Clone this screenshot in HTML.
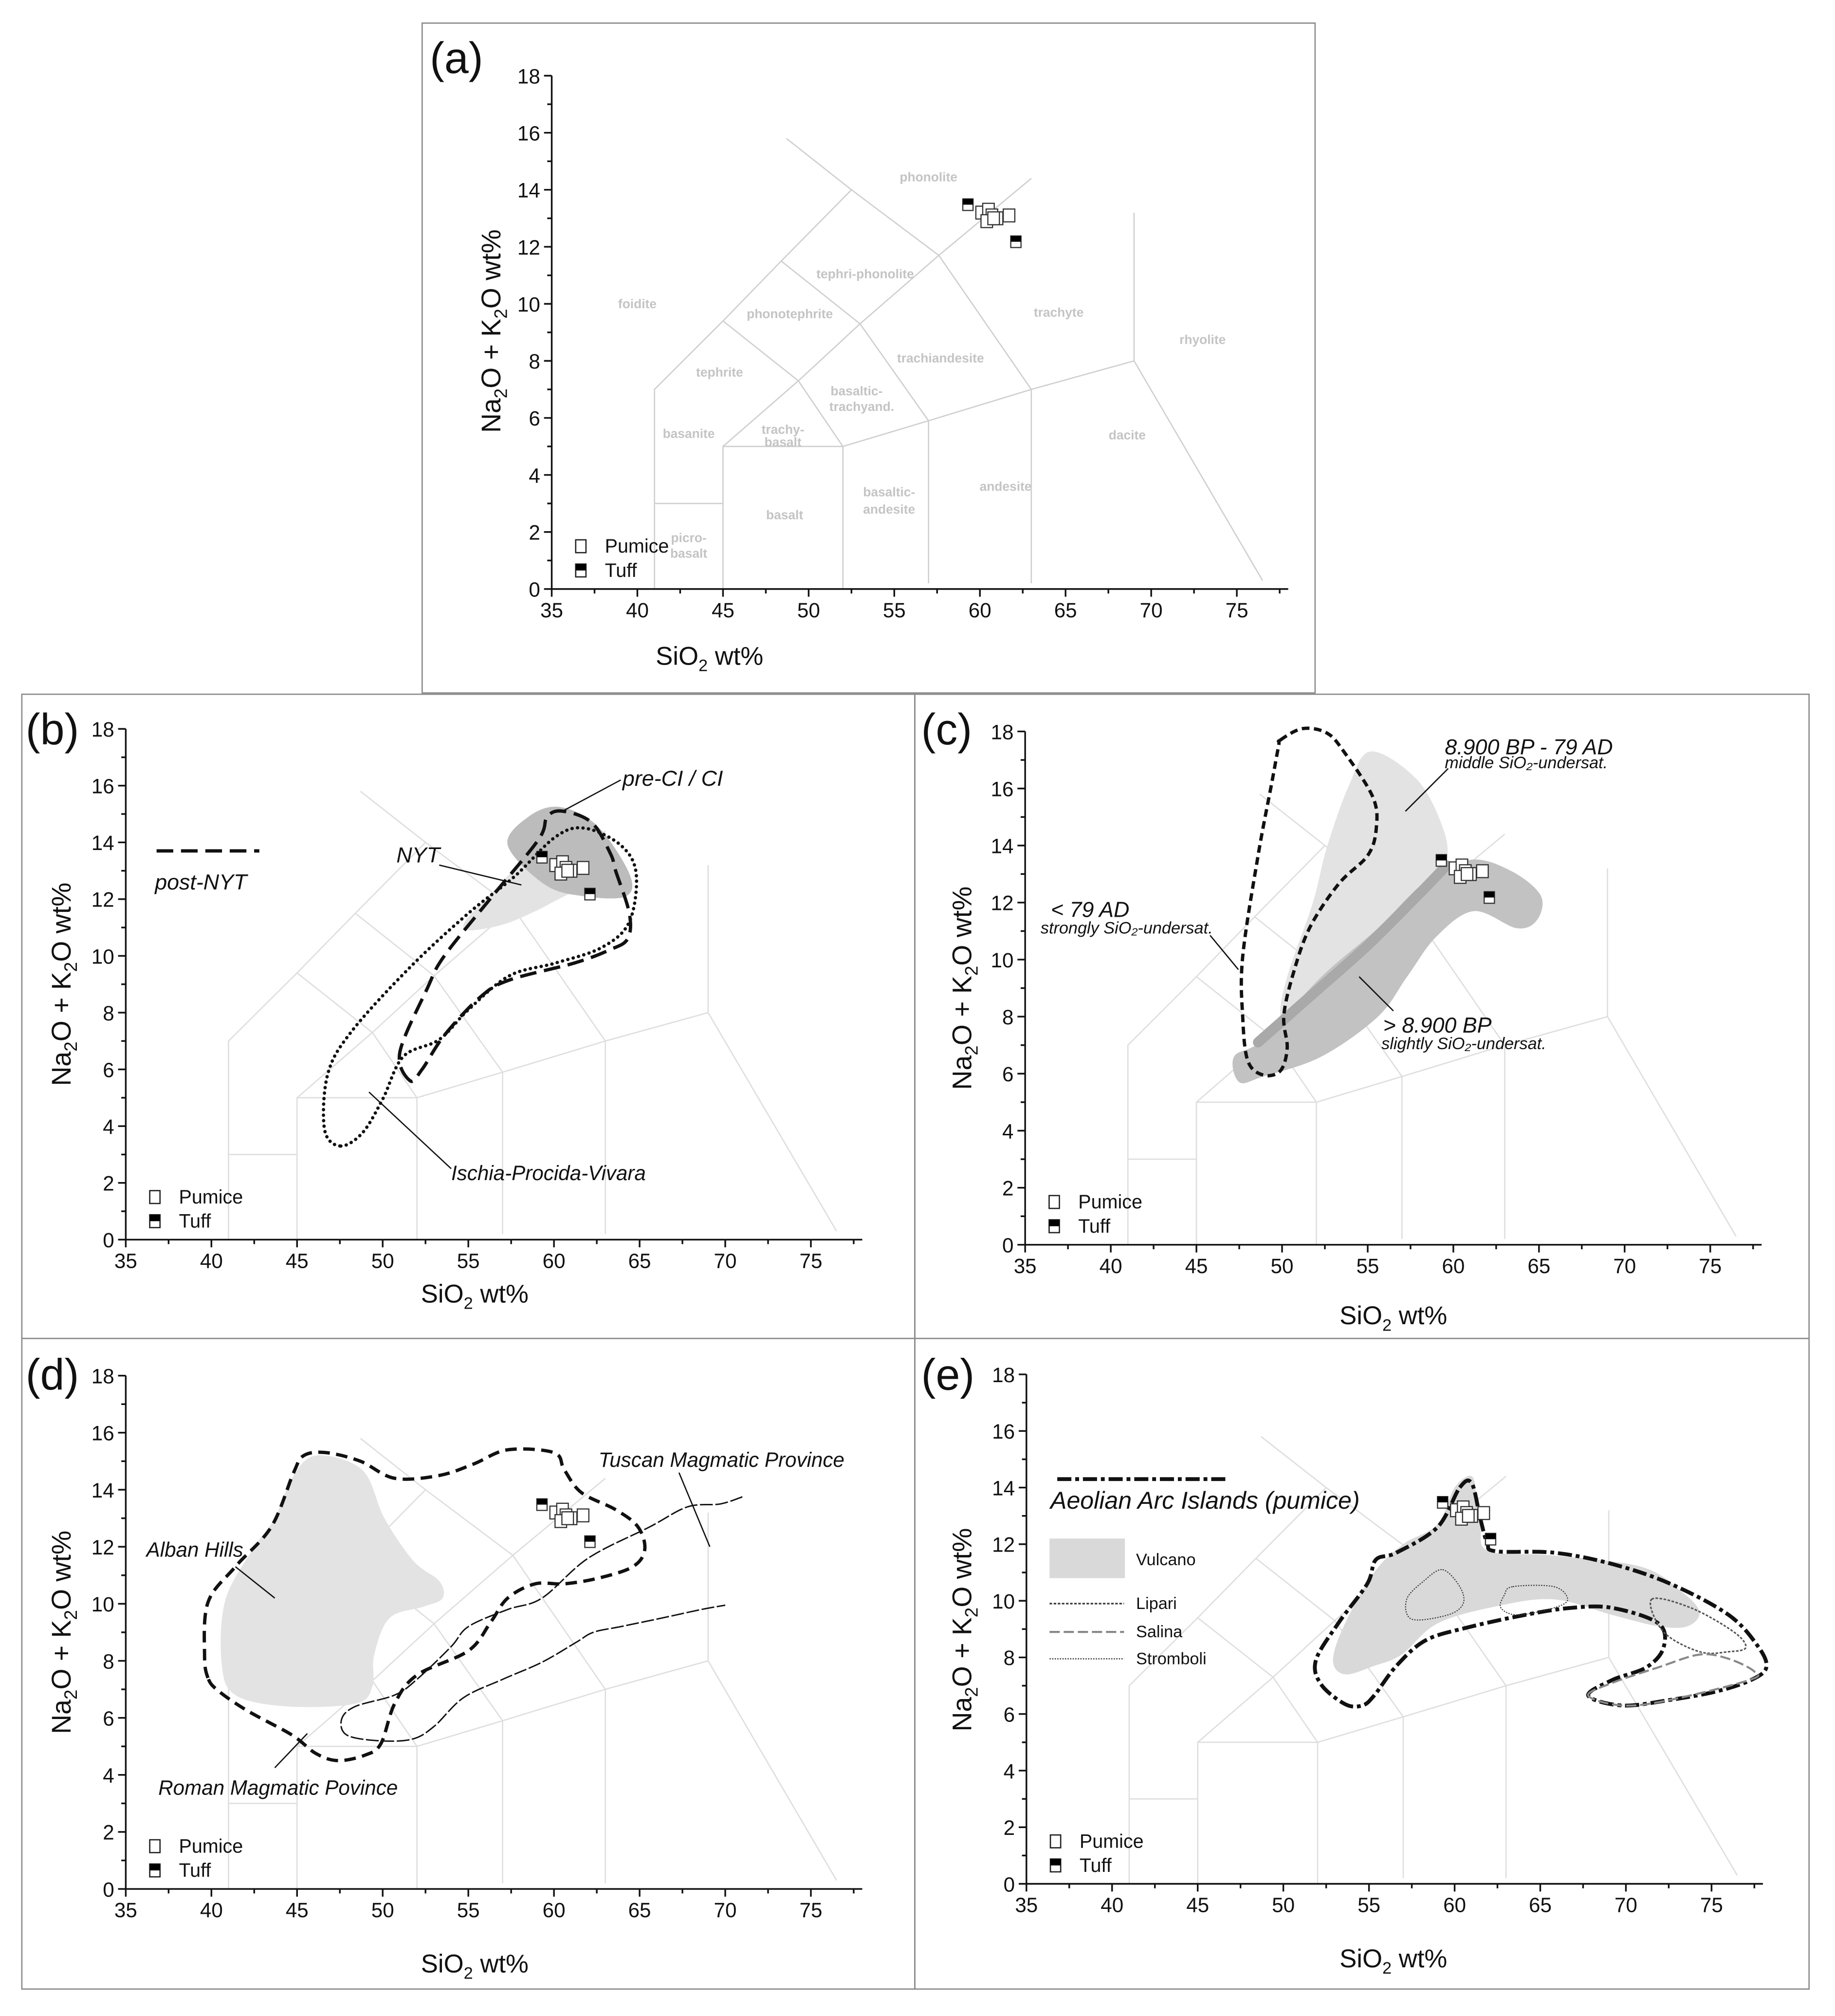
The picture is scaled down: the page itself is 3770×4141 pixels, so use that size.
<!DOCTYPE html>
<html><head><meta charset="utf-8">
<style>
html,body{margin:0;padding:0;background:#fff;}
svg{display:block;}
text{font-family:"Liberation Sans Narrow","Liberation Sans",sans-serif;}
</style></head>
<body>
<svg id="fig" xmlns="http://www.w3.org/2000/svg" width="3770" height="4141" viewBox="0 0 1430.2 1571">
<rect x="0" y="0" width="1430.2" height="1571" fill="#fff"/>
</svg>
<script>
// ---------- data ----------
const pumiceSiO2 = [60.1, 60.5, 60.7, 61.0, 60.4, 61.7, 60.8];
const pumiceAlk  = [13.2, 13.3, 13.1, 13.0, 12.9, 13.1, 13.0];
const tuffSiO2 = [59.3, 62.1];
const tuffAlk  = [13.5, 12.2];
const xTicks = [35, 40, 45, 50, 55, 60, 65, 70, 75];
const yTicks = [0, 2, 4, 6, 8, 10, 12, 14, 16, 18];

// TAS field boundaries (SiO2, alkali)
const tasLines = [
 [[41,0],[41,7],[45,9.4],[48.4,11.5],[52.5,14],[48.7,15.8]],
 [[45,0],[45,5],[52,5]],[[41,3],[45,3]],
 [[45,5],[49.4,7.3],[53,9.3],[57.6,11.7],[63,14.4]],
 [[52,0],[52,5],[57,5.9],[63,7],[69,8],[76.5,0.3]],
 [[57,0.2],[57,5.9]],[[63,0.2],[63,7]],[[69,8],[69,13.2]],
 [[49.4,7.3],[52,5]],[[53,9.3],[57,5.9]],[[57.6,11.7],[63,7]],
 [[48.4,11.5],[53,9.3]],[[52.5,14],[57.6,11.7]],[[45,9.4],[49.4,7.3]]
];
const tasNames = ["phonolite","tephri-phonolite","foidite","phonotephrite","trachyte","rhyolite","tephrite","trachiandesite","basaltic-","trachyand.","basanite","trachy-","basalt","dacite","andesite","basaltic-","andesite","basalt","picro-","basalt"];
const tasNameX = [57,53.3,40,48.9,64.6,73,44.8,57.7,52.8,53.1,43,48.5,48.5,68.6,61.5,54.7,54.7,48.6,43,43];
const tasNameY = [14.45,11.05,10,9.65,9.7,8.75,7.6,8.1,6.95,6.4,5.45,5.6,5.15,5.4,3.6,3.4,2.8,2.6,1.8,1.25];

// panel b
const nytField = [[55,10.9],[57,11.1],[59,11.6],[61,12.2],[62.5,12.3],[63.5,13],[62,13.6],[60,13.9],[58,13.2],[56,12],[54.8,11.2]];
const preCIField = [[60.3,15.25],[62.5,14.6],[64.4,12.9],[64.2,12.1],[61.8,12.1],[59.5,12.5],[57.3,13.9],[58.5,14.9]];
const postNYT = [[51.6,5.6],[51,6.6],[52.6,8.85],[53.6,10],[56.4,12.1],[59.1,14.1],[59.6,14.9],[60.5,15.1],[62.2,14.7],[63.3,13.6],[63.6,13],[64.4,11.5],[64.3,10.6],[63.2,10.2],[61.2,9.75],[57.4,9.15],[55.7,8.55],[53.6,7.2],[52.3,6]];
const ischia = [[47.5,3.3],[46.6,3.9],[46.8,5.85],[48.2,7.35],[51.6,9.6],[55,11.5],[57.7,12.8],[60.1,14.2],[61.8,14.5],[63.9,13.9],[64.8,12.9],[64.4,11.2],[62.8,10.3],[60.1,9.75],[57.4,9.3],[55,8.1],[53.3,7.05],[51.2,6.45],[50,4.95],[48.8,3.75]];

// panel c
const middleField = [[55.2,17.3],[57.9,16.3],[59.4,14.6],[59.6,13.4],[58.6,12.2],[56.6,10.55],[53.9,9.1],[51.6,7.7],[50.6,7.45],[49.9,8],[50.3,9.4],[51.8,12],[52.6,13.9],[53.9,16.1]];
const slightField = [[47.5,5.7],[47.2,6.6],[48.9,7.2],[52.3,9.4],[55.6,11.1],[58.3,12.7],[61,13.5],[63.4,13.1],[65.1,12.25],[64.9,11.4],[63.7,11.1],[61.2,11.7],[59,10.8],[57.3,9.4],[55.6,8],[52.3,6.6],[48.9,5.9]];
const overlapBand = [[48.6,7.1],[52,8.9],[55,10.5],[58,12.3],[59.6,13.3]];
const strongly = [[49.9,17.7],[51.2,18.1],[52.6,17.95],[53.6,17.3],[55.3,15.7],[55.5,14.6],[55,13.65],[53.3,12.65],[51.6,11.1],[50.6,9.4],[50.1,8],[50.3,6.9],[49.9,6.1],[48.9,5.95],[48,6.45],[47.7,8],[47.7,10.1],[48.6,13.65],[49.4,16.2],[49.8,17.5]];

// panel d
const albanField = [[46.1,15.2],[48.8,14.7],[50.1,13],[51.8,11.5],[53.3,10.8],[53.5,10.2],[52.4,9.9],[50.4,9.5],[49.5,8.2],[49.4,7.1],[48.4,6.5],[44.4,6.4],[41.4,6.8],[40.6,7.9],[40.8,10.1],[42.4,11.9],[43.7,13],[44.7,14.4]];
const romanProv = [[39.8,7.4],[39.6,8.2],[39.8,10.05],[41.4,11.3],[43.5,12.7],[44.8,14.6],[45.4,15.2],[46.7,15.3],[48.7,15],[50.7,14.4],[53.3,14.5],[55.3,14.9],[57.3,15.4],[60,15.3],[60.6,14.7],[61.6,13.9],[63.6,13.3],[64.9,12.7],[65.3,11.9],[64.6,11.3],[62.6,10.9],[60.6,10.7],[58.9,10.7],[57.3,10.2],[56.3,9.35],[55,8.35],[52,7.5],[50.7,6.5],[49.9,5.1],[49,4.7],[47.4,4.5],[46.1,4.75],[44.7,5.4],[42.1,6.25],[40.4,6.95]];
const tuscanProv = [[71,13.75],[69.7,13.5],[67.8,13.4],[65.6,12.7],[62,11.6],[59.3,10.2],[57.3,9.8],[55,9.2],[54,8.5],[52,7.35],[50.7,6.8],[48.4,6.4],[47.6,5.95],[47.9,5.4],[49.7,5.2],[51.7,5.25],[53,5.7],[54.7,6.7],[57,7.35],[59.3,7.95],[61.3,8.65],[62.3,9],[63.9,9.2],[66.3,9.5],[68.6,9.8],[70,9.95]];

// panel e
const vulcanoField = [[60,14],[61,14.4],[61.3,13.6],[61.5,12.6],[62,11.75],[65.8,11.6],[70.9,11.2],[73.3,10.3],[74.3,9.6],[73.6,9.1],[71.9,9.1],[69.2,9.5],[65.8,10.05],[62.4,9.8],[59,9.2],[56.9,8.1],[55.3,7.7],[53.6,7.4],[52.9,7.9],[53.6,9.2],[55.3,11],[57,12],[59,12.7]];
const aeolian = [[60.3,14],[61,14.15],[61.5,12.9],[61.9,12.05],[62.4,11.75],[65.8,11.7],[69.2,11.3],[72.6,10.6],[76,9.5],[77.7,8.4],[78.2,7.65],[77.3,7.2],[75.3,6.8],[72.6,6.5],[69.8,6.3],[67.8,6.65],[69.2,7.2],[71.2,7.65],[72.2,8.35],[71.9,9.2],[69.2,9.75],[66.8,9.75],[64.1,9.5],[60.7,9.05],[58.3,8.6],[56.6,7.7],[55.3,6.65],[54.6,6.3],[53.6,6.35],[52.2,7.05],[51.9,7.9],[53.2,9.2],[54.9,10.6],[55.4,11.45],[56.6,11.7],[59,12.6]];
const lipari = [[71.5,10.05],[73.8,9.75],[76.3,8.9],[77,8.35],[76,8.2],[74.3,8.2],[72.2,8.9]];
const salina = [[67.8,6.65],[69.2,7.1],[71.9,7.65],[74.3,8.1],[76,7.95],[77.5,7.5],[77.2,7.2],[72.6,6.5],[69.8,6.3]];
const stromboli1 = [[59.3,11.1],[60.3,10.5],[60.5,9.9],[59.6,9.5],[57.5,9.35],[57.2,10.05],[58.2,10.7]];
const stromboli2 = [[63.4,10.5],[65.8,10.5],[66.6,10.05],[65.8,9.75],[63.7,9.5],[62.7,9.75],[62.9,10.2]];

// ---------- helpers ----------
const NS = "http://www.w3.org/2000/svg";
const svg = document.getElementById('fig');
function mk(tag, attrs, parent){
  const e = document.createElementNS(NS, tag);
  for (const k in attrs) e.setAttribute(k, attrs[k]);
  (parent||svg).appendChild(e);
  return e;
}
function smoothPath(pts, closed, P){
  const q = pts.map(p => [P.x(p[0]), P.y(p[1])]);
  const n = q.length;
  let d = "M" + q[0][0].toFixed(2) + "," + q[0][1].toFixed(2);
  const last = closed ? n : n - 1;
  for (let i = 0; i < last; i++){
    const p0 = q[closed ? (i - 1 + n) % n : Math.max(i - 1, 0)];
    const p1 = q[i];
    const p2 = q[(i + 1) % n];
    const p3 = q[closed ? (i + 2) % n : Math.min(i + 2, n - 1)];
    const c1 = [p1[0] + (p2[0] - p0[0]) / 6, p1[1] + (p2[1] - p0[1]) / 6];
    const c2 = [p2[0] - (p3[0] - p1[0]) / 6, p2[1] - (p3[1] - p1[1]) / 6];
    d += " C" + c1[0].toFixed(2) + "," + c1[1].toFixed(2) + " " + c2[0].toFixed(2) + "," + c2[1].toFixed(2) + " " + p2[0].toFixed(2) + "," + p2[1].toFixed(2);
  }
  if (closed) d += " Z";
  return d;
}

// ---------- panels ----------
const panels = [
 {id:'a', frame:[329,18,696,522], x35:430, x75:964, y0:459, y18:59, label:[335,57], xt:[553,518], yt:[390,258], full:true},
 {id:'b', frame:[17,541,696,502], x35:98, x75:632, y0:966, y18:568, label:[20,580], xt:[370,1015], yt:[55,767]},
 {id:'c', frame:[713,541,697,502], x35:799, x75:1333, y0:970, y18:570, label:[718,580], xt:[1086,1032], yt:[757,770]},
 {id:'d', frame:[17,1043,696,507], x35:98, x75:632, y0:1472, y18:1072, label:[20,1083], xt:[370,1537], yt:[55,1272]},
 {id:'e', frame:[713,1043,697,507], x35:800, x75:1334, y0:1468, y18:1071, label:[718,1083], xt:[1086,1533], yt:[757,1270]}
];

panels.forEach(pn => {
  const g = mk('g', {});
  
  
  const sx = (pn.x75 - pn.x35) / 40, sy = (pn.y0 - pn.y18) / 18;
  const P = {x: v => pn.x35 + (v - 35) * sx, y: v => pn.y0 - v * sy};

  const fr = mk('rect', {x:pn.frame[0], y:pn.frame[1], width:pn.frame[2], height:pn.frame[3], fill:'none', stroke:'#8a8a8a', 'stroke-width':1}, g);
  
  

  // TAS grid
  const tg = mk('g', {stroke: pn.full ? '#cfcfcf' : '#dedede', 'stroke-width': 1, fill:'none'}, g);
  
  
  tasLines.forEach(l => {
    const pl = mk('polyline', {points: l.map(p => P.x(p[0]).toFixed(2) + ',' + P.y(p[1]).toFixed(2)).join(' ')}, tg);
    
    
  });
  if (pn.full){
    tasNames.forEach((nm, i) => {
      const t = mk('text', {x:P.x(tasNameX[i]), y:P.y(tasNameY[i]), 'font-size':10, 'font-weight':'bold', fill:'#c4c4c4', 'text-anchor':'middle', 'dominant-baseline':'central'}, g);
      t.textContent = nm;
      
      
    });
  }

  // overlays
  const F = (pts, fill, nm) => {
    const p = mk('path', {d: smoothPath(pts, true, P), fill: fill, stroke: 'none'}, g);
    
    
    return p;
  };
  const L = (pts, closed, stroke, w, dash, nm, cap) => {
    const p = mk('path', {d: smoothPath(pts, closed, P), fill: 'none', stroke: stroke, 'stroke-width': w, 'stroke-dasharray': dash, 'stroke-linecap': cap || 'butt', 'stroke-linejoin':'round'}, g);
    
    
    return p;
  };
  const T = (txt, x, y, size, nm, italic, anchor) => {
    const t = mk('text', {x: P.x(x), y: P.y(y), 'font-size': size, fill: '#111', 'font-style': italic ? 'italic' : 'normal', 'text-anchor': anchor || 'start', 'dominant-baseline':'central'}, g);
    t.textContent = txt;
    
    
    return t;
  };
  const LL = (a, b, nm) => {
    const l = mk('line', {x1:P.x(a[0]), y1:P.y(a[1]), x2:P.x(b[0]), y2:P.y(b[1]), stroke:'#111', 'stroke-width':1}, g);
    
    
  };

  if (pn.id === 'b'){
    F(nytField, '#e3e3e3', 'nyt-field');
    F(preCIField, '#bcbcbc', 'pre-ci-field');
    L(postNYT, true, '#111', 2.6, '13 6', 'post-nyt-contour');
    L(ischia, true, '#111', 2.6, '0.1 4.2', 'ischia-contour', 'round');
    LL([60.5,15.1],[63.9,16.2], 'pre-ci-leader');
    LL([53.3,13.2],[58.1,12.5], 'nyt-leader');
    LL([49.2,5.2],[54,2.5], 'ischia-leader');
    T('pre-CI / CI', 64, 16.25, 17, 'pre-ci-label', true);
    T('NYT', 50.8, 13.55, 17, 'nyt-label', true);
    T('Ischia-Procida-Vivara', 54, 2.35, 16, 'ischia-label', true);
    const lg = mk('line', {x1:P.x(36.8), y1:P.y(13.7), x2:P.x(42.8), y2:P.y(13.7), stroke:'#111', 'stroke-width':2.6, 'stroke-dasharray':'13 6'}, g);
    
    
    T('post-NYT', 36.7, 12.6, 17, 'post-nyt-legend-label', true);
  }
  if (pn.id === 'c'){
    F(middleField, '#e3e3e3', 'middle-undersat-field');
    F(slightField, '#c2c2c2', 'slightly-undersat-field');
    L(overlapBand, false, '#a9a9a9', 8, 'none', 'overlap-band', 'round');
    L(strongly, true, '#111', 2.6, '6 3.5', 'strongly-undersat-contour');
    LL([57.2,15.2],[59.7,16.7], 'middle-leader');
    LL([45.8,10.85],[47.45,9.65], 'strongly-leader');
    LL([54.5,9.4],[56.5,8.2], 'slightly-leader');
    T('8.900 BP - 79 AD', 59.5, 17.45, 17, 'middle-label', true);
    T('middle SiO\u2082-undersat.', 59.5, 16.9, 13, 'middle-sublabel', true);
    T('< 79 AD', 36.5, 11.75, 17, 'strongly-label', true);
    T('strongly SiO\u2082-undersat.', 35.9, 11.1, 13, 'strongly-sublabel', true);
    T('> 8.900 BP', 55.9, 7.7, 17, 'slightly-label', true);
    T('slightly SiO\u2082-undersat.', 55.8, 7.05, 13, 'slightly-sublabel', true);
  }
  if (pn.id === 'd'){
    F(albanField, '#e3e3e3', 'alban-hills-field');
    L(romanProv, true, '#111', 2.6, '9 5', 'roman-province-contour');
    L(tuscanProv, false, '#111', 1.1, '10 2', 'tuscan-province-contour');
    LL([41.4,11.3],[43.7,10.2], 'alban-leader');
    LL([67.3,14.6],[69.1,12], 'tuscan-leader');
    LL([43.7,4.25],[45.6,5.45], 'roman-leader');
    T('Alban Hills', 36.2, 11.9, 16, 'alban-label', true);
    T('Tuscan Magmatic Province', 62.6, 15.05, 16, 'tuscan-label', true);
    T('Roman Magmatic Povince', 36.9, 3.55, 16, 'roman-label', true);
  }
  if (pn.id === 'e'){
    F(vulcanoField, '#d9d9d9', 'vulcano-field');
    L(aeolian, true, '#111', 3, '11 3 3 3', 'aeolian-contour');
    L(lipari, true, '#555', 1.2, '2 1.2', 'lipari-contour');
    L(salina, true, '#888', 1.6, '8 3', 'salina-contour');
    L(stromboli1, true, '#333', 0.8, '1 1', 'stromboli-contour-1');
    L(stromboli2, true, '#333', 0.8, '1 1', 'stromboli-contour-2');
    const a = mk('line', {x1:P.x(36.8), y1:P.y(14.3), x2:P.x(46.8), y2:P.y(14.3), stroke:'#111', 'stroke-width':3, 'stroke-dasharray':'11 3 3 3'}, g);
    
    
    T('Aeolian Arc Islands (pumice)', 36.4, 13.55, 19, 'aeolian-legend-label', true);
    const vb = mk('rect', {x:P.x(36.35), y:P.y(12.2), width:(40.75-36.35)*sx, height:1.4*sy, fill:'#d9d9d9'}, g);
    
    
    T('Vulcano', 41.4, 11.45, 13, 'vulcano-legend-label');
    const sw = [['Lipari', 9.9, '#333', 1.2, '2 1.2'], ['Salina', 8.9, '#888', 1.6, '8 3'], ['Stromboli', 7.95, '#333', 0.9, '1 1']];
    sw.forEach(s => {
      const l = mk('line', {x1:P.x(36.35), y1:P.y(s[1]), x2:P.x(40.7), y2:P.y(s[1]), stroke:s[2], 'stroke-width':s[3], 'stroke-dasharray':s[4]}, g);
      
      
      T(s[0], 41.4, s[1], 13, 'legend-label-' + s[0].toLowerCase());
    });
  }

  // axes
  const ax = mk('g', {stroke:'#111', 'stroke-width':1.3}, g);
  
  
  const xa = mk('line', {x1:P.x(35), y1:P.y(0), x2:P.x(78), y2:P.y(0)}, ax);
  
  
  const ya = mk('line', {x1:P.x(35), y1:P.y(0), x2:P.x(35), y2:P.y(18)}, ax);
  
  
  for (let v = 35; v <= 77.6; v += 2.5){
    const major = (v % 5 === 0);
    const tk = mk('line', {x1:P.x(v), y1:P.y(0), x2:P.x(v), y2:P.y(0) + (major ? 6 : 3.5)}, ax);
    
    
  }
  for (let v = 0; v <= 18; v += 1){
    const major = (v % 2 === 0);
    const tk = mk('line', {x1:P.x(35), y1:P.y(v), x2:P.x(35) - (major ? 6 : 3.5), y2:P.y(v)}, ax);
    
    
  }
  xTicks.forEach(v => {
    const t = mk('text', {x:P.x(v), y:P.y(0) + 22, 'font-size':16, fill:'#111', 'text-anchor':'middle'}, g);
    t.textContent = v;
    
    
  });
  yTicks.forEach(v => {
    const t = mk('text', {x:P.x(35) - 9, y:P.y(v) + 6, 'font-size':16, fill:'#111', 'text-anchor':'end'}, g);
    t.textContent = v;
    
    
  });
  const xt = mk('text', {x:pn.xt[0], y:pn.xt[1], 'font-size':20, fill:'#111', 'text-anchor':'middle'}, g);
  xt.innerHTML = 'SiO<tspan font-size="13" dy="5">2</tspan><tspan dy="-5"> wt%</tspan>';
  
  
  const yt = mk('text', {x:0, y:0, 'font-size':21, fill:'#111', 'text-anchor':'middle', 'font-family':'Liberation Sans, sans-serif', transform:'translate(' + pn.yt[0] + ',' + pn.yt[1] + ') rotate(-90)'}, g);
  yt.innerHTML = 'Na<tspan font-size="14" dy="5">2</tspan><tspan dy="-5">O + K</tspan><tspan font-size="14" dy="5">2</tspan><tspan dy="-5">O wt%</tspan>';
  
  
  const pl = mk('text', {x:pn.label[0], y:pn.label[1], 'font-size':34, fill:'#111', 'font-family':'Liberation Sans, sans-serif'}, g);
  pl.textContent = '(' + pn.id + ')';
  
  

  // sample legend
  const s1 = mk('rect', {x:P.x(36.7) - 4, y:P.y(1.5) - 5, width:8, height:10, fill:'#fff', stroke:'#222', 'stroke-width':1}, g);
  
  
  const t1 = mk('text', {x:P.x(38.1), y:P.y(1.5) + 5, 'font-size':15, fill:'#111'}, g);
  t1.textContent = 'Pumice';
  
  
  const s2 = mk('rect', {x:P.x(36.7) - 4, y:P.y(0.65) - 5, width:8, height:10, fill:'#fff', stroke:'#222', 'stroke-width':1}, g);
  
  
  const s2b = mk('rect', {x:P.x(36.7) - 4, y:P.y(0.65) - 5, width:8, height:5, fill:'#000'}, g);
  
  
  const t2 = mk('text', {x:P.x(38.1), y:P.y(0.65) + 5, 'font-size':15, fill:'#111'}, g);
  t2.textContent = 'Tuff';
  
  

  // samples
  pumiceSiO2.forEach((v, i) => {
    const r = mk('rect', {x:P.x(v) - 4.5, y:P.y(pumiceAlk[i]) - 5, width:9, height:10, fill:'#fff', stroke:'#333', 'stroke-width':0.9}, g);
    
    
  });
  tuffSiO2.forEach((v, i) => {
    const r = mk('rect', {x:P.x(v) - 4, y:P.y(tuffAlk[i]) - 4, width:8, height:9, fill:'#fff', stroke:'#333', 'stroke-width':0.9}, g);
    
    
    const h = mk('rect', {x:P.x(v) - 4, y:P.y(tuffAlk[i]) - 4, width:8, height:4.5, fill:'#000'}, g);
    
    
  });
});
</script>
</body></html>
